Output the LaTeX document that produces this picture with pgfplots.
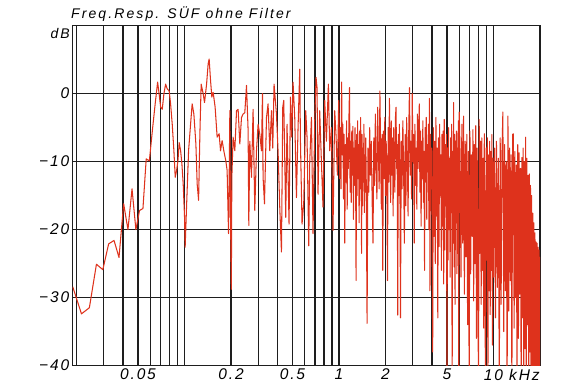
\documentclass[border=0pt]{standalone}
\usepackage{fontspec}
\setmainfont{Liberation Sans}
\newfontfamily\chartfont{Liberation Sans}[LetterSpace=12]
\newfontfamily\titlefont{Liberation Sans}[LetterSpace=15]
\usepackage{pgfplots}
\pgfplotsset{compat=1.18}
\definecolor{curve}{RGB}{222,50,28}
\definecolor{gridc}{RGB}{30,30,30}

\pgfplotstableread{
f db
0.0189 -28.4
0.02154 -32.4
0.02423 -31.5
0.02692 -25.1
0.02961 -25.9
0.03230 -22.1
0.03500 -21.6
0.03769 -24.1
0.04038 -16.2
0.04307 -20.0
0.04576 -14.0
0.04846 -20.0
0.05115 -17.2
0.05384 -16.9
0.05653 -9.6
0.05922 -9.9
0.06192 -5.5
0.06461 -1.5
0.0670 1.7
0.0686 -0.1
0.0701 -2.0
0.0718 -2.3
0.0736 0.0
0.0755 1.4
0.0773 0.7
0.0796 0.4
0.0813 -1.5
0.0833 -4.5
0.0854 -8.4
0.0871 -12.3
0.0889 -11.3
0.0907 -9.9
0.0924 -7.2
0.0944 -8.4
0.0962 -10.3
0.0981 -13.3
0.1001 -18.2
0.1010 -22.6
0.1031 -16.7
0.1063 -8.4
0.1095 -4.5
0.1121 -1.5
0.1150 -3.0
0.1185 -7.4
0.1208 -13.3
0.1234 -15.7
0.1258 -5.9
0.1282 1.4
0.1321 0.0
0.1348 -1.3
0.1390 1.4
0.1423 4.4
0.1444 5.1
0.1475 1.9
0.1503 -0.5
0.1533 0.2
0.1579 -2.0
0.1627 -6.4
0.1676 -5.9
0.1711 -8.4
0.1752 -6.9
0.1797 -8.4
0.1852 -9.9
0.1888 -11.3
0.1928 -20.6
0.1945 -13.3
0.1966 -2.5
0.1986 -18.2
0.2010 -28.8
0.2025 -12.3
0.2064 -6.4
0.2117 -8.4
0.2172 -2.5
0.2224 -2.3
0.2281 -7.4
0.2339 -3.5
0.2395 -3.0
0.2457 -2.8
0.2520 1.2
0.2581 -5.4
0.2608 -19.4
0.2647 -7.0
0.2715 -12.3
0.2780 -2.3
0.2851 -17.2
0.2924 -8.4
0.2995 -4.5
0.3072 -6.0
0.3150 -8.4
0.3197 0.0
0.3226 -12.3
0.3294 -16.2
0.3395 -3.5
0.3475 -1.5
0.3565 -8.4
0.3656 -2.5
0.3727 -8.0
0.3800 1.4
0.3938 -3.0
0.4033 -8.4
0.4136 -16.7
0.4242 -23.3
0.4326 -2.0
0.4390 -1.0
0.4522 -18.2
0.4611 -4.5
0.4751 -19.2
0.4851 -0.5
0.4946 -6.4
0.5042 1.7
0.5171 -3.5
0.5304 -15.3
0.5433 -5.0
0.5572 3.6
0.5630 -7.0
0.5766 -19.2
0.5914 -16.0
0.6093 -2.5
0.6212 -6.4
0.6371 -22.4
0.6467 -10.0
0.6633 -3.5
0.6792 -20.6
0.6966 -4.0
0.7103 2.4
0.7210 0.9
0.7318 -14.8
0.7502 -2.5
0.7695 -10.0
0.7882 -16.7
0.8084 -1.0
0.8290 -7.0
0.8540 1.4
0.8709 -8.4
0.8931 -5.0
0.9146 -20.1
0.9380 -2.5
0.9563 -6.0
0.9765 -12.0
0.9956 -1.0
1.00 -3.0
1.01 -12.5
1.02 -5.0
1.03 -14.0
1.04 1.7
1.05 -9.0
1.06 -4.5
1.07 -15.5
1.08 -6.0
1.09 -22.0
1.10 -7.5
1.11 -13.0
1.12 -4.0
1.13 -17.0
1.14 -6.5
1.15 -11.0
1.16 -3.5
1.17 0.9
1.18 -14.5
1.19 -7.0
1.20 -16.0
1.21 -5.5
1.22 -12.0
1.23 -4.8
1.24 -18.5
1.25 -8.0
1.26 -13.5
1.27 -5.0
1.28 -10.0
1.29 -27.5
1.30 -6.0
1.31 -15.0
1.32 -4.0
1.33 -12.5
1.34 -7.5
1.35 -19.0
1.36 -5.5
1.37 -14.0
1.38 -3.5
1.39 -11.0
1.40 -23.5
1.41 -6.0
1.42 -16.5
1.43 -8.0
1.44 -13.0
1.45 -4.5
1.46 -17.5
1.47 -9.0
1.48 -14.5
1.49 -6.5
1.50 -12.0
1.52 -33.8
1.54 -8.0
1.56 -14.5
1.58 -5.0
1.60 -12.0
1.62 -7.0
1.64 -16.0
1.66 -22.0
1.68 -6.5
1.70 -13.5
1.72 -3.0
1.74 -10.5
1.76 -15.5
1.78 -2.0
1.80 -9.0
1.82 -14.0
1.84 0.4
1.86 -8.5
1.88 -17.0
1.90 -6.0
1.92 -26.0
1.94 -5.5
1.96 -12.5
1.98 -3.5
2.00 -15.0
2.02 -7.0
2.04 -11.5
2.06 -27.5
2.08 -5.0
2.10 -13.0
2.12 -0.7
2.14 -9.5
2.16 -16.0
2.18 -4.0
2.20 -12.0
2.22 -6.5
2.24 -18.0
2.26 -5.0
2.28 -10.5
2.30 -14.5
2.32 -3.5
2.34 -2.0
2.36 -11.0
2.38 -7.5
2.40 -32.6
2.42 -6.0
2.44 -15.0
2.46 -4.5
2.48 -13.0
2.50 -33.0
2.53 -7.0
2.56 -14.0
2.59 -4.0
2.62 -11.5
2.65 -22.0
2.68 -6.0
2.71 -16.5
2.74 -3.5
2.77 -9.5
2.80 -18.0
2.83 -5.0
2.86 0.9
2.89 -12.0
2.92 -7.0
2.95 -15.5
2.98 0.0
3.01 -10.0
3.04 -6.0
3.07 -22.0
3.10 -4.5
3.13 -13.5
3.16 -8.0
3.19 -17.0
3.22 -3.0
3.25 -11.0
3.28 -6.5
3.31 -1.5
3.34 -14.5
3.37 -5.5
3.40 -19.5
3.43 -7.0
3.46 -12.5
3.49 -4.0
3.52 -16.0
3.55 -8.5
3.58 -26.0
3.61 -5.0
3.64 -13.0
3.67 -3.5
3.70 -18.5
3.73 -7.5
3.76 -11.5
3.79 -4.5
3.82 -20.0
3.85 -0.7
3.88 -29.0
3.91 -6.0
3.94 -14.0
3.97 -8.0
4.00 -17.5
4.04 -38.0
4.08 -5.0
4.12 -21.0
4.16 -7.0
4.20 -25.0
4.24 -3.5
4.28 -18.0
4.32 -8.0
4.36 -33.0
4.40 -6.5
4.44 -22.5
4.48 -4.5
4.52 -15.0
4.56 -9.0
4.60 -26.0
4.64 -6.0
4.68 -19.5
4.72 -5.5
4.76 -28.0
4.80 -3.8
4.84 -23.0
4.88 -7.5
4.92 -16.5
4.96 -6.0
5.00 -44.0
5.04 -8.0
5.08 -24.5
5.12 -5.0
5.16 -20.0
5.20 -9.5
5.24 -27.0
5.28 -6.5
5.32 -17.5
5.36 -4.5
5.40 -44.0
5.44 -8.5
5.48 -22.0
5.52 -1.3
5.56 -25.5
5.60 -6.0
5.64 -31.0
5.68 -7.0
5.72 -19.0
5.76 -5.5
5.80 -26.5
5.84 -8.0
5.88 -23.5
5.92 -4.0
5.96 -44.0
6.00 -2.7
6.08 -9.0
6.16 -27.0
6.24 -4.5
6.32 -22.0
6.40 -3.3
6.48 -29.5
6.56 -7.0
6.64 -24.0
6.72 -6.0
6.80 -34.0
6.88 -8.5
6.96 -44.0
7.04 -5.5
7.12 -26.5
7.20 -9.0
7.28 -21.0
7.36 -5.3
7.44 -30.5
7.52 -7.5
7.60 -25.0
7.68 -4.7
7.76 -36.0
7.84 -8.0
7.92 -27.5
8.00 -44.0
8.08 -3.8
8.16 -23.5
8.24 -7.0
8.32 -31.0
8.40 -6.5
8.48 -26.0
8.56 -9.5
8.64 -34.5
8.72 -5.9
8.80 -28.0
8.88 -44.0
8.96 -8.0
9.04 -24.5
9.12 -6.5
9.20 -44.0
9.28 -9.0
9.36 -29.0
9.44 -7.0
9.52 -32.5
9.60 -8.5
9.68 -26.0
9.76 -6.0
9.84 -37.0
9.92 -9.5
10.00 -27.0
10.15 -8.0
10.30 -33.0
10.45 -7.0
10.60 -28.5
10.75 -9.5
10.90 -44.0
11.05 -6.5
11.20 -31.0
11.35 -8.5
11.50 -2.7
11.65 -35.0
11.80 -7.5
11.95 -29.0
12.10 -10.0
12.25 -44.0
12.40 -3.3
12.55 -32.0
12.70 -8.0
12.85 -27.5
13.00 -9.0
13.15 -44.0
13.30 -6.0
13.45 -5.9
13.60 -34.5
13.75 -8.5
13.90 -30.0
14.05 -10.5
14.20 -44.0
14.35 -7.5
14.50 -36.0
14.65 -8.7
14.80 -29.5
14.95 -11.0
15.10 -44.0
15.25 -9.4
15.40 -33.0
15.55 -8.0
15.70 -44.0
15.85 -10.0
16.00 -37.5
16.15 -6.4
16.30 -44.0
16.45 -9.5
16.60 -34.0
16.75 -12.0
16.90 -44.0
17.05 -11.8
17.20 -38.0
17.35 -13.5
17.50 -44.0
17.65 -15.0
17.80 -44.0
17.95 -17.6
18.10 -44.0
18.25 -19.0
18.40 -44.0
18.55 -20.5
18.70 -44.0
18.85 -21.8
19.00 -44.0
19.15 -22.0
19.30 -44.0
19.45 -22.6
19.60 -44.0
19.75 -23.0
19.90 -44.0
20.00 -24.0
}\resp

\begin{document}
\begin{tikzpicture}
\begin{axis}[
  at={(72.7bp,21.5bp)}, anchor=south west,
  scale only axis, width=467.3bp, height=339.8bp,
  xmode=log, xmin=0.0189, xmax=20, ymin=-40, ymax=10,
  xtick={0.02,0.03,0.04,0.05,0.06,0.07,0.08,0.09,0.1,0.2,0.3,0.4,0.5,0.6,0.7,0.8,0.9,1,2,3,4,5,6,7,8,9,10},
  xticklabels={,,,0.05,,,,,,0.2,,,0.5,,,,,1,2,,,5,,,,,10\rlap{ kHz}},
  ytick={-40,-30,-20,-10,0},
  yticklabels={−40,−30,−20,−10,0},
  major tick length=0pt, minor tick length=0pt,
  xmajorgrids, ymajorgrids,
  grid style={gridc, line width=1.3bp},
  axis line style={gridc, line width=1.5bp},
  tick label style={font=\chartfont\itshape\fontsize{15.5bp}{17bp}\selectfont},
  xticklabel style={yshift=0bp},
  yticklabel style={xshift=0bp},
]
\addplot[curve, line width=1.05bp, line join=round, mark=none] table[x=f, y=db] {\resp};
\end{axis}
\node[anchor=base west, inner sep=0pt, font=\titlefont\itshape\fontsize{14bp}{16bp}\selectfont] at (71bp,368bp) {Freq.Resp. SÜF ohne Filter};
\node[anchor=base east, inner sep=0pt, font=\titlefont\itshape\fontsize{14bp}{16bp}\selectfont] at (70bp,348.7bp) {dB};
\pgfresetboundingbox
\useasboundingbox (0,0) rectangle (580bp,387bp);
\end{tikzpicture}
\end{document}
